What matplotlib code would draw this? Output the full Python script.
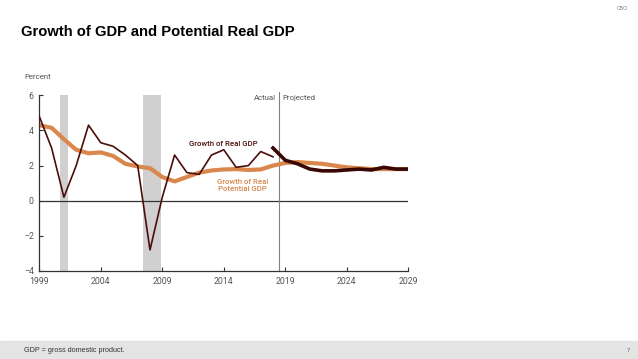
import matplotlib
matplotlib.use("Agg")
import matplotlib.pyplot as plt
from matplotlib.patches import Rectangle

years_actual = list(range(1999, 2019))
gdp_actual = [4.8, 3.0, 0.2, 2.0, 4.3, 3.3, 3.1, 2.6, 2.0, -2.8, 0.2, 2.6, 1.6, 1.5, 2.6, 2.9, 1.9, 2.0, 2.8, 2.5]
years_proj = list(range(2018, 2030))
gdp_proj = [3.0, 2.3, 2.1, 1.8, 1.7, 1.7, 1.75, 1.8, 1.75, 1.9, 1.8, 1.8]
years_pot = list(range(1999, 2030))
potential = [4.3, 4.15, 3.5, 2.9, 2.7, 2.75, 2.55, 2.1, 1.95, 1.85, 1.35, 1.1, 1.35, 1.6, 1.72, 1.78, 1.8, 1.75, 1.78, 2.0,
             2.15, 2.2, 2.15, 2.1, 2.0, 1.9, 1.85, 1.8, 1.8, 1.8, 1.8]
recessions = [(2000.7, 2001.3), (2007.45, 2008.9)]
xticks = [1999, 2004, 2009, 2014, 2019, 2024, 2029]
yticks = [-4, -2, 0, 2, 4, 6]
ytick_labels = ["\u22124", "\u22122", "0", "2", "4", "6"]

W, H = 638, 359
fig = plt.figure(figsize=(W / 100, H / 100), dpi=100)
fig.patch.set_facecolor("white")

ax = fig.add_axes([39.3 / W, 1 - 271 / H, (408.3 - 39.3) / W, (271 - 95.3) / H])
ax.set_xlim(1999, 2029)
ax.set_ylim(-4, 6)

for a, b in recessions:
    ax.axvspan(a, b, color="#d0d0d0", lw=0, zorder=0)

ax.axhline(0, color="#333333", lw=0.9, zorder=1)
ax.plot([2018.5, 2018.5], [-4, 6.2], color="#808080", lw=0.8, zorder=1, clip_on=False)

ax.plot(years_pot, potential, color="#d9874c", lw=3.0, solid_capstyle="butt", zorder=2)
ax.plot(years_actual, gdp_actual, color="#4a0e0a", lw=1.2, zorder=3)
ax.plot(years_proj, gdp_proj, color="#3a0704", lw=2.6, zorder=4)

for s in ["top", "right"]:
    ax.spines[s].set_visible(False)
for s in ["left", "bottom"]:
    ax.spines[s].set_color("#333333")
    ax.spines[s].set_linewidth(0.9)

ax.set_xticks(xticks)
ax.set_xticklabels([str(x) for x in xticks])
ax.set_yticks(yticks)
ax.set_yticklabels(ytick_labels)
ax.tick_params(direction="in", length=3, width=0.8, color="#333333", labelsize=6.3, labelcolor="#555555", pad=4)
for lab in ax.get_xticklabels() + ax.get_yticklabels():
    lab.set_family("Roboto")

ax.text(2018.2, 5.85, "Actual", ha="right", va="center", fontsize=5.6, color="#555555", family="Roboto")
ax.text(2018.8, 5.85, "Projected", ha="left", va="center", fontsize=5.6, color="#555555", family="Roboto")
ax.text(2014.0, 3.25, "Growth of Real GDP", ha="center", va="center", fontsize=5.6, color="#4a0e0a",
        family="Roboto", fontweight="medium")
ax.text(2015.55, 0.87, "Growth of Real\nPotential GDP", ha="center", va="center", fontsize=5.6, color="#d9874c",
        family="Roboto", fontweight="medium", linespacing=1.15)

fig.text(24 / W, 1 - 77 / H, "Percent", ha="left", va="center", fontsize=5.6, color="#555555", family="Roboto")
fig.text(21 / W, 1 - 32 / H, "Growth of GDP and Potential Real GDP", ha="left", va="center",
         fontsize=10.6, fontweight="bold", color="black", family="Liberation Sans")
fig.text(628 / W, 1 - 9 / H, "CBO", ha="right", va="center", fontsize=3.8, color="#777777", family="Liberation Sans")

fig.patches.append(Rectangle((0, 0), 1, 18 / H, transform=fig.transFigure, color="#e4e4e4", zorder=0))
fig.text(24 / W, 9 / H, "GDP = gross domestic product.", ha="left", va="center", fontsize=5.2,
         color="#333333", family="Liberation Sans")
fig.text(630 / W, 9 / H, "7", ha="right", va="center", fontsize=4.5, color="#666666", family="Liberation Sans")

fig.savefig("out.png", dpi=100)
